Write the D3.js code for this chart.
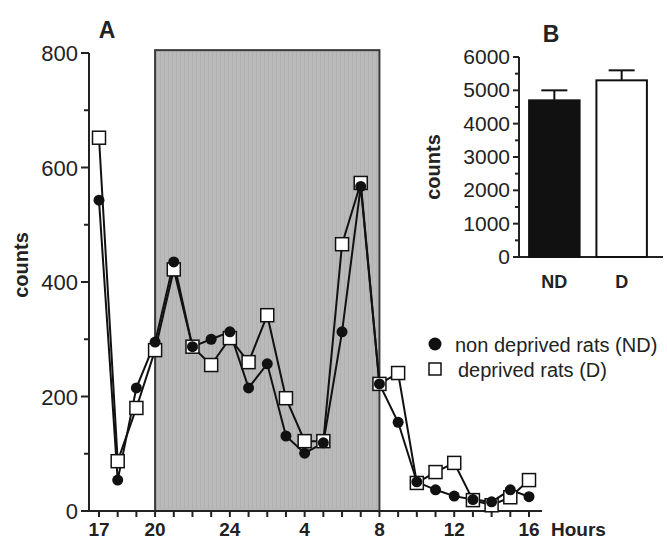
<!DOCTYPE html>
<html lang="en">

<head>
    <meta charset="UTF-8">
    <title>counts</title>
    <script src="https://d3js.org/d3.v7.min.js"></script>
    <style>
        body { margin: 0; background: #fff; }
        text { font-family: "Liberation Sans", Arial, sans-serif; fill: #222; }
    </style>
</head>

<body>
    <script>
        // panel A: hourly counts, 17h to 16h next day
        var hourIdx = d3.range(0, 24);
        var hourTicks = [0, 3, 7, 11, 15, 19, 23];
        var hourLabels = ["17", "20", "24", "4", "8", "12", "16"];
        var ndCounts = [543, 54, 215, 295, 435, 287, 300, 313, 215, 257, 131, 101, 119, 313, 567, 222, 155, 51, 37, 26, 20, 16, 37, 25];
        var dCounts = [652, 87, 180, 281, 422, 287, 255, 302, 260, 342, 197, 122, 122, 466, 573, 222, 241, 49, 68, 84, 19, 10, 24, 54];
        var darkStart = 3, darkEnd = 15;   // 20h to 8h

        // panel B: totals
        var groups = ["ND", "D"];
        var totals = [4700, 5300];
        var totalErr = [300, 300];

        var width = 667, height = 539;
        var svg = d3.select("body").append("svg")
            .attr("width", width)
            .attr("height", height);

        // ---- panel A ----
        var x = d3.scaleLinear().domain([0, 23]).range([99, 529]);
        var y = d3.scaleLinear().domain([0, 800]).range([511, 53]);
        var axisX = 89;

        // vertical stripe texture for the dark phase
        var pat = svg.append("defs").append("pattern")
            .attr("id", "stripes")
            .attr("width", 4).attr("height", 10)
            .attr("patternUnits", "userSpaceOnUse");
        pat.append("rect").attr("width", 4).attr("height", 10).attr("fill", "#bababa");
        pat.append("rect").attr("width", 1).attr("height", 10).attr("fill", "#b1b1b1");

        svg.append("rect")
            .attr("x", x(darkStart))
            .attr("y", y(805))
            .attr("width", x(darkEnd) - x(darkStart))
            .attr("height", y(0) - y(805))
            .attr("fill", "url(#stripes)")
            .attr("stroke", "#3a3a3a")
            .attr("stroke-width", 2);

        // y axis
        var gy = svg.append("g").attr("stroke", "#222").attr("stroke-width", 2);
        gy.append("line").attr("x1", axisX).attr("x2", axisX).attr("y1", y(800)).attr("y2", y(0));
        gy.selectAll("line.tk").data(d3.range(0, 801, 100)).enter().append("line")
            .attr("class", "tk")
            .attr("x1", axisX)
            .attr("x2", function (d) { return d % 200 == 0 ? axisX - 8 : axisX - 5; })
            .attr("y1", function (d) { return y(d); })
            .attr("y2", function (d) { return y(d); });
        svg.selectAll("text.ylab").data(d3.range(0, 801, 200)).enter().append("text")
            .attr("class", "ylab")
            .attr("x", 78)
            .attr("y", function (d) { return y(d) + 8; })
            .attr("text-anchor", "end")
            .attr("font-size", 22)
            .text(function (d) { return d; });

        // x axis
        var gx = svg.append("g").attr("stroke", "#222").attr("stroke-width", 2);
        gx.append("line").attr("x1", axisX).attr("x2", 542).attr("y1", y(0)).attr("y2", y(0));
        gx.selectAll("line.tk").data(hourIdx).enter().append("line")
            .attr("class", "tk")
            .attr("x1", function (d) { return x(d); })
            .attr("x2", function (d) { return x(d); })
            .attr("y1", y(0))
            .attr("y2", y(0) + 6);
        svg.selectAll("text.xlab").data(hourTicks).enter().append("text")
            .attr("class", "xlab")
            .attr("x", function (d) { return x(d); })
            .attr("y", 536)
            .attr("text-anchor", "middle")
            .attr("font-size", 19)
            .attr("font-weight", "bold")
            .text(function (d, i) { return hourLabels[i]; });
        svg.append("text")
            .attr("x", 551).attr("y", 536)
            .attr("font-size", 19).attr("font-weight", "bold")
            .text("Hours");

        svg.append("text")
            .attr("transform", "translate(28,265) rotate(-90)")
            .attr("text-anchor", "middle")
            .attr("font-size", 20).attr("font-weight", "bold")
            .text("counts");
        svg.append("text")
            .attr("x", 107).attr("y", 38)
            .attr("text-anchor", "middle")
            .attr("font-size", 23).attr("font-weight", "bold")
            .text("A");

        // lines
        var line = d3.line()
            .x(function (d, i) { return x(i); })
            .y(function (d) { return y(d); });
        svg.append("path").datum(dCounts)
            .attr("d", line).attr("fill", "none")
            .attr("stroke", "#111").attr("stroke-width", 2);
        svg.append("path").datum(ndCounts)
            .attr("d", line).attr("fill", "none")
            .attr("stroke", "#111").attr("stroke-width", 2);

        // markers
        svg.selectAll("rect.dpt").data(dCounts).enter().append("rect")
            .attr("class", "dpt")
            .attr("x", function (d, i) { return x(i) - 6.5; })
            .attr("y", function (d) { return y(d) - 6.5; })
            .attr("width", 13).attr("height", 13)
            .attr("fill", "#fff").attr("stroke", "#111").attr("stroke-width", 1.5);
        svg.selectAll("circle.ndpt").data(ndCounts).enter().append("circle")
            .attr("class", "ndpt")
            .attr("cx", function (d, i) { return x(i); })
            .attr("cy", function (d) { return y(d); })
            .attr("r", 5.5)
            .attr("fill", "#111");

        // legend
        svg.append("circle").attr("cx", 435).attr("cy", 344).attr("r", 6.5).attr("fill", "#111");
        svg.append("text").attr("x", 455).attr("y", 352).attr("font-size", 20).text("non deprived rats (ND)");
        svg.append("rect").attr("x", 429).attr("y", 363).attr("width", 12).attr("height", 12)
            .attr("fill", "#fff").attr("stroke", "#111").attr("stroke-width", 1.5);
        svg.append("text").attr("x", 458).attr("y", 377).attr("font-size", 20).text("deprived rats (D)");

        // ---- panel B ----
        var yb = d3.scaleLinear().domain([0, 6000]).range([257, 57]);
        var xb = d3.scaleBand().domain(groups).range([519, 657]).paddingInner(0.25).paddingOuter(0.15);
        var bAxisX = 519;

        var gby = svg.append("g").attr("stroke", "#222").attr("stroke-width", 2);
        gby.append("line").attr("x1", bAxisX).attr("x2", bAxisX).attr("y1", yb(6000)).attr("y2", yb(0));
        gby.append("line").attr("x1", bAxisX).attr("x2", 663).attr("y1", yb(0)).attr("y2", yb(0));
        gby.selectAll("line.tk").data(d3.range(0, 6001, 500)).enter().append("line")
            .attr("class", "tk")
            .attr("x1", bAxisX)
            .attr("x2", function (d) { return d % 1000 == 0 ? bAxisX - 6 : bAxisX - 4; })
            .attr("y1", function (d) { return yb(d); })
            .attr("y2", function (d) { return yb(d); });
        svg.selectAll("text.yblab").data(d3.range(0, 6001, 1000)).enter().append("text")
            .attr("class", "yblab")
            .attr("x", 510)
            .attr("y", function (d) { return yb(d) + 7; })
            .attr("text-anchor", "end")
            .attr("font-size", 21)
            .text(function (d) { return d; });

        // error bars behind bars
        var gerr = svg.append("g").attr("stroke", "#111").attr("stroke-width", 2);
        gerr.selectAll("line.v").data(groups).enter().append("line")
            .attr("class", "v")
            .attr("x1", function (d) { return xb(d) + xb.bandwidth() / 2; })
            .attr("x2", function (d) { return xb(d) + xb.bandwidth() / 2; })
            .attr("y1", function (d, i) { return yb(totals[i]); })
            .attr("y2", function (d, i) { return yb(totals[i] + totalErr[i]); });
        gerr.selectAll("line.c").data(groups).enter().append("line")
            .attr("class", "c")
            .attr("x1", function (d) { return xb(d) + xb.bandwidth() / 2 - 13; })
            .attr("x2", function (d) { return xb(d) + xb.bandwidth() / 2 + 13; })
            .attr("y1", function (d, i) { return yb(totals[i] + totalErr[i]); })
            .attr("y2", function (d, i) { return yb(totals[i] + totalErr[i]); });

        svg.selectAll("rect.bar").data(groups).enter().append("rect")
            .attr("class", "bar")
            .attr("x", function (d) { return xb(d); })
            .attr("y", function (d, i) { return yb(totals[i]); })
            .attr("width", xb.bandwidth())
            .attr("height", function (d, i) { return yb(0) - yb(totals[i]); })
            .attr("fill", function (d, i) { return i == 0 ? "#111" : "#fff"; })
            .attr("stroke", "#111").attr("stroke-width", 2);

        svg.selectAll("text.xblab").data(groups).enter().append("text")
            .attr("class", "xblab")
            .attr("x", function (d) { return xb(d) + xb.bandwidth() / 2; })
            .attr("y", 288)
            .attr("text-anchor", "middle")
            .attr("font-size", 18).attr("font-weight", "bold")
            .text(function (d) { return d; });

        svg.append("text")
            .attr("transform", "translate(440,167) rotate(-90)")
            .attr("text-anchor", "middle")
            .attr("font-size", 20).attr("font-weight", "bold")
            .text("counts");
        svg.append("text")
            .attr("x", 551).attr("y", 42)
            .attr("text-anchor", "middle")
            .attr("font-size", 23).attr("font-weight", "bold")
            .text("B");
    </script>
</body>

</html>
